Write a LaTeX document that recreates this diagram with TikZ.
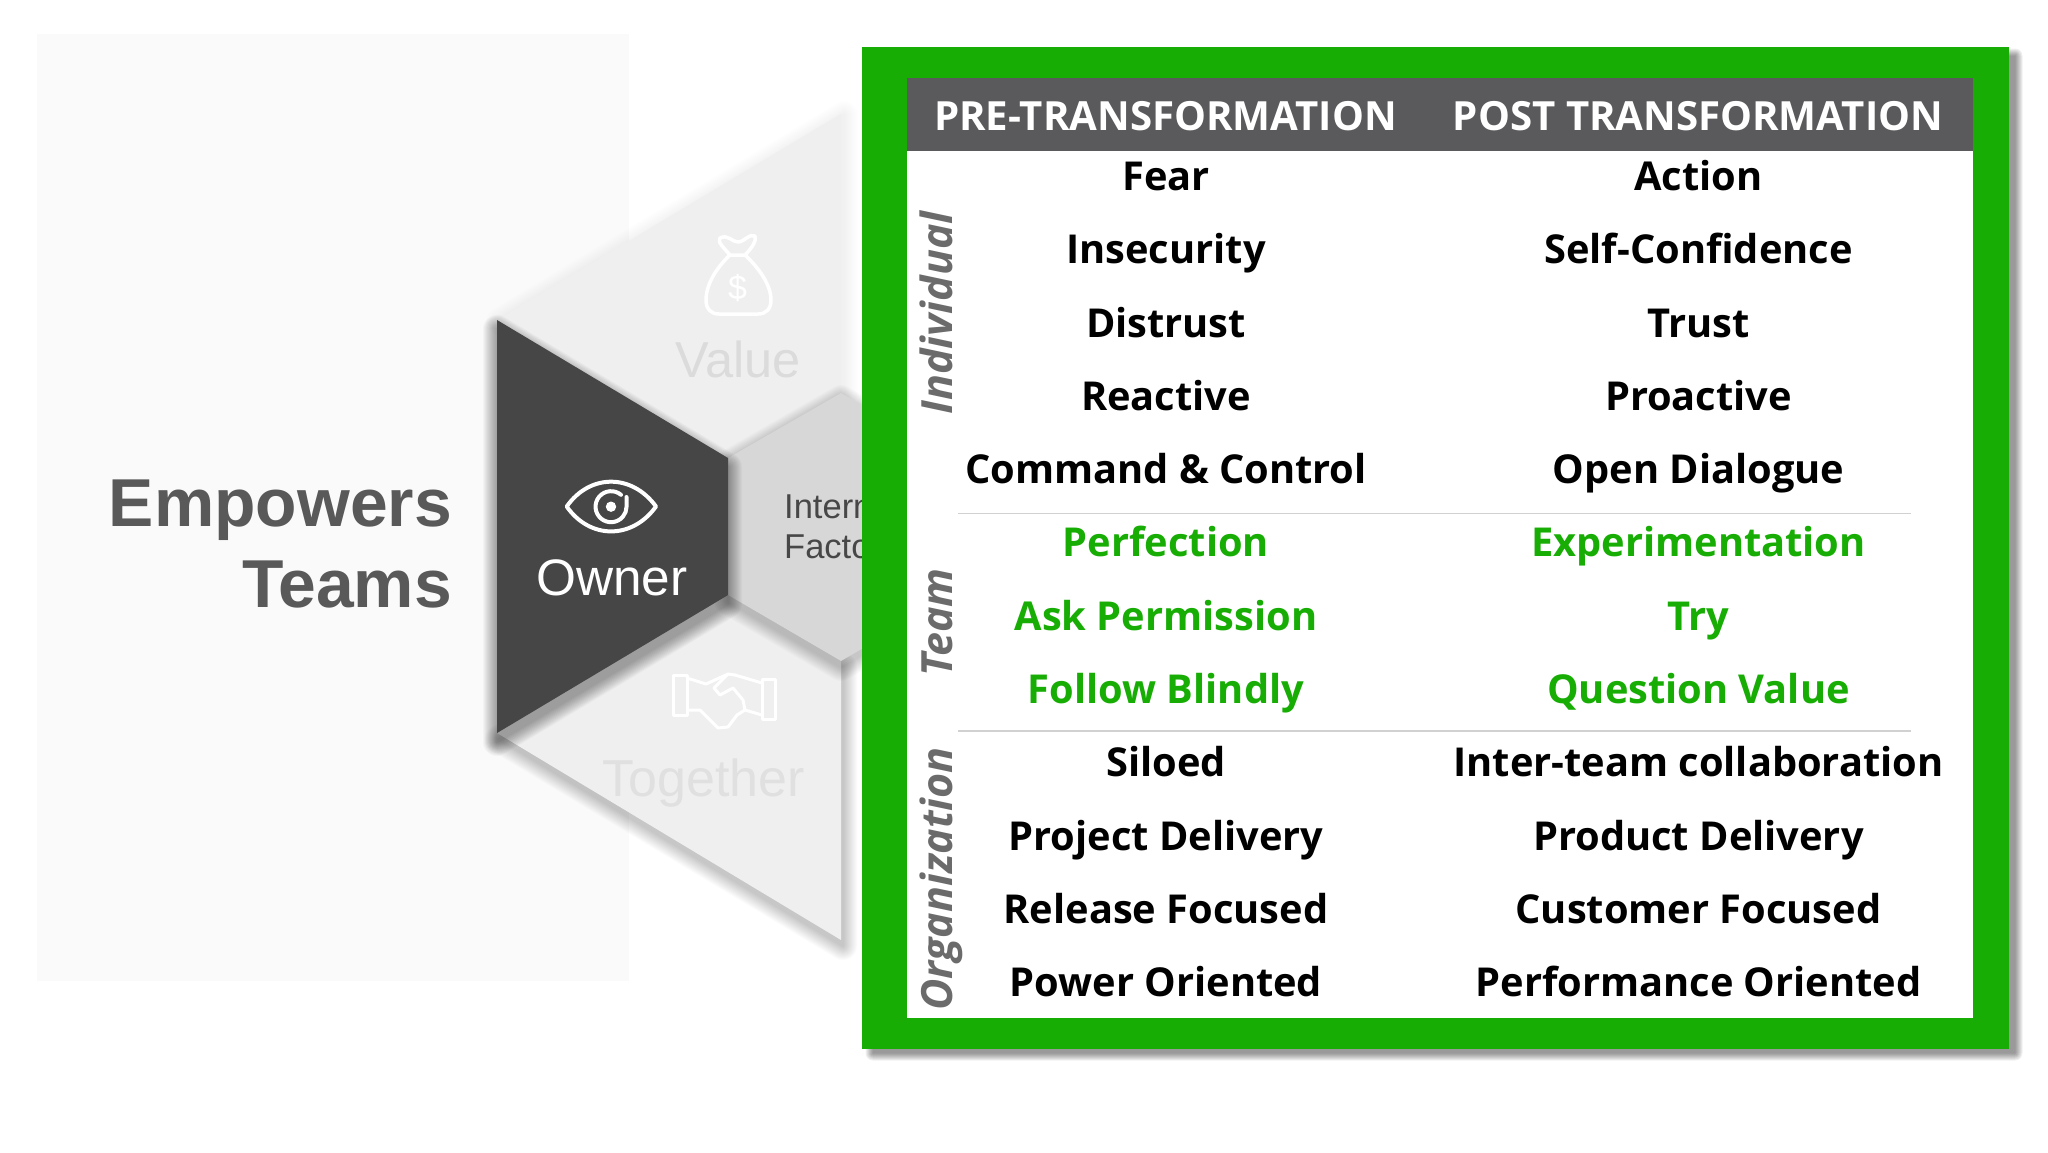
\documentclass[tikz,border=0pt]{standalone}
\usepackage{fontspec}
\setmainfont{Liberation Sans}
\newfontfamily\opensans{Open Sans}
\definecolor{framegreen}{HTML}{17AD05}
\definecolor{headgrey}{HTML}{5A5A5C}
\definecolor{darktrap}{HTML}{464646}
\definecolor{lighttrap}{HTML}{EFEFEF}
\definecolor{midhex}{HTML}{D7D7D7}
% soft shadow: offset, opacity per layer, path, each layer one group
\newcommand{\softshadow}[3]{%
  \foreach \w in {2,4,...,28}{%
    \begin{scope}[transparency group,opacity=#2]
      \draw[shift={(#1)},line width=\w pt,black,fill=black,line join=round] #3;
    \end{scope}
  }}
\newcommand{\sz}[1]{\fontsize{#1}{#1}\selectfont}
\tikzset{
  row/.style={anchor=base,inner sep=0pt,font=\opensans\bfseries\sz{39.8}},
  head/.style={anchor=base,inner sep=0pt,text=white,font=\opensans\bfseries\sz{40.2}},
  side/.style={anchor=base,rotate=90,inner sep=0pt,text=black!58,font=\opensans\bfseries\itshape\sz{43}},
  bigtxt/.style={anchor=base east,inner sep=0pt,text=black!65,font=\bfseries\sz{67.8}},
  seg/.style={anchor=base,inner sep=0pt},
  icon/.style={line width=3.5pt,line join=round,line cap=round},
  rule/.style={draw=black!18,line width=1.5pt}
}
\begin{document}
\begin{tikzpicture}[x=1pt,y=-1pt]
\useasboundingbox (0,0) rectangle (2048,1152);
\fill[white] (0,0) rectangle (2048,1152);
% faint panel
\fill[black!1.8] (36.7,33.8) rectangle (628.6,981);
\node[bigtxt] (emp) at (452,526) {Empowers};
\node[bigtxt] (tea) at (452,607) {Teams};
% value and together trapezoids
\softshadow{3,1}{.003}{(497,320) -- (841,114) -- (841,393) -- (728,458) -- cycle}
\fill[lighttrap] (497,320) -- (841,114) -- (841,393) -- (728,458) -- cycle;
\softshadow{2,6}{.014}{(728,595) -- (841,661) -- (841,940) -- (497,733) -- cycle}
\fill[lighttrap] (728,595) -- (841,661) -- (841,940) -- (497,733) -- cycle;
% hexagon
\softshadow{0,6}{.016}{(728,458) -- (841,393) -- (954,458) -- (954,595) -- (841,661) -- (728,595) -- cycle}
\fill[midhex] (728,458) -- (841,393) -- (954,458) -- (954,595) -- (841,661) -- (728,595) -- cycle;
% owner
\softshadow{0,9}{.026}{(497,320) -- (728,458) -- (728,595) -- (497,733) -- cycle}
\fill[darktrap] (497,320) -- (728,458) -- (728,595) -- (497,733) -- cycle;
% eye icon
\draw[icon,white,line width=4pt] (566.7,506.5) .. controls (590,473.4) and (632,473.4) .. (656,506.5)
  .. controls (632,539.7) and (590,539.7) .. cycle;
\draw[icon,white,line width=4pt] (621,494.8) arc[start angle=50,end angle=360,radius=15.5pt] -- (626.5,497);
\fill[white] (611,506.7) circle (5.2);
\node[seg,text=white,font=\sz{51.3}] (own) at (612,595) {Owner};
% money bag icon
\draw[icon,white] (720,238) .. controls (728,234) and (732,242) .. (738,242) .. controls (744,242) and (750,233) .. (755,236)
  .. controls (757,240) and (752,248) .. (745,255) -- (730,255) .. controls (724,248) and (717,242) .. (720,238) -- cycle;
\draw[icon,white] (730,255) .. controls (716,268) and (706,285) .. (706,300)
  .. controls (706,309) and (711,314) .. (719,314) -- (758,314) .. controls (766,314) and (771,309) .. (771,300)
  .. controls (771,285) and (759,268) .. (745,255);
\node[inner sep=0pt,text=white,font=\sz{34}] (dol) at (737.5,288) {\$};
\node[seg,text=black!14,font=\sz{50.5}] (val) at (738,377.5) {Value};
% handshake icon
\draw[icon,white,line width=3pt] (673,675) rectangle (687,715);
\draw[icon,white,line width=3pt] (762,679) rectangle (775,719);
\draw[icon,white,line width=3pt] (687,678) -- (706,684) -- (728,674) -- (735,675) -- (762,683);
\draw[icon,white,line width=3pt] (687,710) -- (700,710) -- (718,728) -- (728,727) -- (737,715) -- (745,710) -- (762,715);
\draw[icon,white,line width=3pt] (728,674) -- (714,688) -- (720,695) -- (733,688) -- (743,700) -- (745,710);
\node[seg,text=black!12,font=\sz{52}] (tog) at (703.8,796) {Together};
% internal factors, runs under the frame
\node[anchor=base west,inner sep=0pt,text=black!72,font=\sz{34.5}] (int) at (784,518) {Internal};
\node[anchor=base west,inner sep=0pt,text=black!72,font=\sz{34.5}] (fac) at (784,558) {Factors};
% green frame
\foreach \w in {1,3,...,15}{%
  \begin{scope}[transparency group,opacity=.06]
    \draw[line width=\w pt,black,fill=black,line join=round] (873,56) rectangle (2015,1053);
  \end{scope}
}
\fill[framegreen] (862,46.5) rectangle (2009,1049);
\fill[white] (907.4,78.2) rectangle (1973,1018);
\fill[headgrey] (907.4,78.2) rectangle (1973,150.5);
\node[head] (pre) at (1165.5,130) {PRE-TRANSFORMATION};
\node[head] (post) at (1698,130) {POST TRANSFORMATION};
% rows
\foreach \n/\a/\b/\c in {0/Fear/Action/black,1/Insecurity/Self-Confidence/black,2/Distrust/Trust/black,
  3/Reactive/Proactive/black,4/Command \& Control/Open Dialogue/black,
  5/Perfection/Experimentation/framegreen,6/Ask Permission/Try/framegreen,7/Follow Blindly/Question Value/framegreen,
  8/Siloed/Inter-team collaboration/black,9/Project Delivery/Product Delivery/black,
  10/Release Focused/Customer Focused/black,11/Power Oriented/Performance Oriented/black}{%
  \node[row,text=\c] (l\n) at (1166,190.4+73.3*\n) {\a};
  \node[row,text=\c] (r\n) at (1698.5,190.4+73.3*\n) {\b};
}
\draw[rule] (958,513.5) -- (1911,513.5);
\draw[rule] (958,731) -- (1911,731);
\node[side] (ind) at (952.5,313) {Individual};
\node[side] (tm) at (952.5,622.5) {Team};
\node[side] (org) at (952.5,879) {Organization};
\end{tikzpicture}
\end{document}
